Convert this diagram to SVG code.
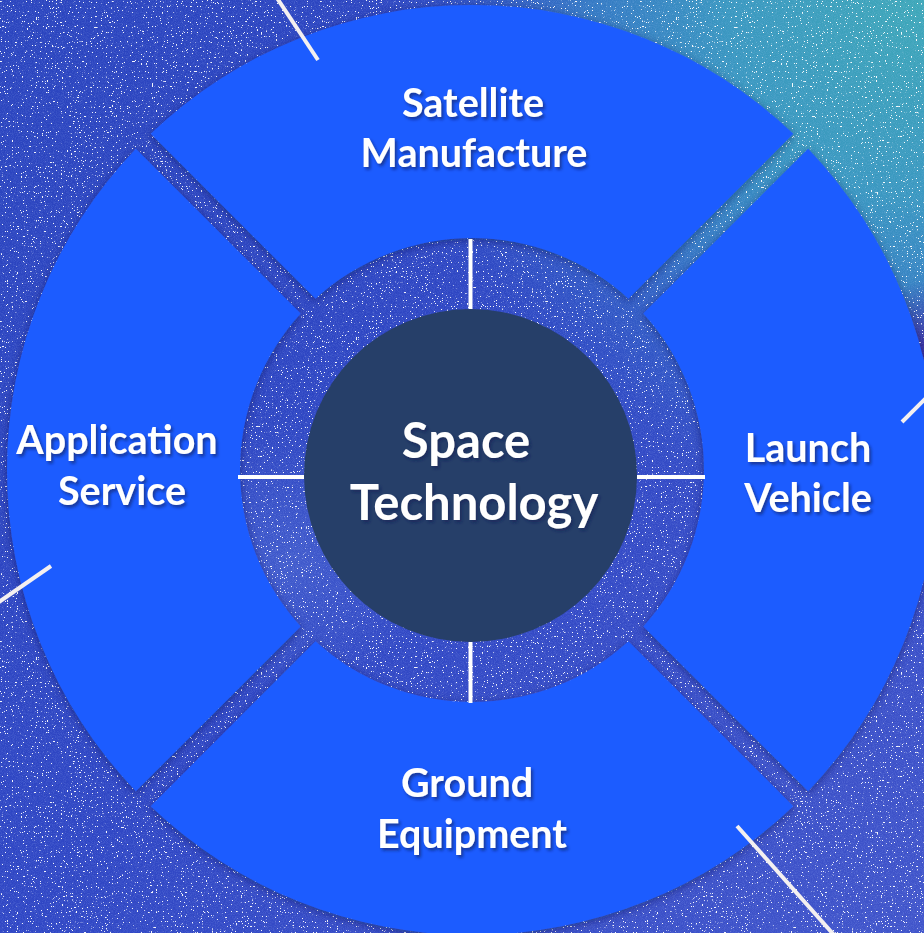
<svg xmlns="http://www.w3.org/2000/svg" width="924" height="933" viewBox="0 0 924 933">
<defs>
<style>
.seg{fill:#1F5CFF;filter:url(#segShadow)}
.lbl{font-family:Lato,"Open Sans","Liberation Sans",sans-serif;font-weight:700;fill:#FFFFFF;text-anchor:middle;filter:url(#txtShadow)}
.s40{font-size:39.5px}
.s49{font-size:49px}
.wl{stroke:#FFFFFF;stroke-width:4;fill:none}
.wo{stroke:#F4F0F0;stroke-width:4;fill:none}
</style>
<linearGradient id="bgLin" x1="0" y1="0" x2="1" y2="1">
<stop offset="0" stop-color="#2A44BE"/>
<stop offset="0.5" stop-color="#2F46C4"/>
<stop offset="1" stop-color="#4054CA"/>
</linearGradient>
<radialGradient id="teal" cx="924" cy="0" r="560" gradientUnits="userSpaceOnUse">
<stop offset="0" stop-color="#3EA8B8"/>
<stop offset="0.35" stop-color="#3A98C0"/>
<stop offset="0.6" stop-color="#3682C4" stop-opacity="0.85"/>
<stop offset="0.82" stop-color="#3262C6" stop-opacity="0.45"/>
<stop offset="1" stop-color="#3048C4" stop-opacity="0"/>
</radialGradient>
<radialGradient id="purple" cx="930" cy="350" r="70" gradientUnits="userSpaceOnUse">
<stop offset="0" stop-color="#3A2AA0"/>
<stop offset="1" stop-color="#3A2AA0" stop-opacity="0"/>
</radialGradient>
<radialGradient id="milky" cx="290" cy="560" r="140" gradientUnits="userSpaceOnUse">
<stop offset="0" stop-color="#6C8CE0" stop-opacity="0.3"/>
<stop offset="1" stop-color="#6C8CE0" stop-opacity="0"/>
</radialGradient>
<filter id="stars" x="0" y="0" width="924" height="933" filterUnits="userSpaceOnUse">
<feTurbulence type="fractalNoise" baseFrequency="0.8" numOctaves="2" seed="11"/>
<feColorMatrix type="matrix" values="0 0 0 0 1  0 0 0 0 1  0 0 0 0 1  22 0 0 0 -15.2"/>
</filter>
<filter id="grain" x="0" y="0" width="924" height="933" filterUnits="userSpaceOnUse">
<feTurbulence type="fractalNoise" baseFrequency="1.1" numOctaves="1" seed="4"/>
<feColorMatrix type="matrix" values="0 0 0 0 0.45  0 0 0 0 0.6  0 0 0 0 1  1.4 0 0 0 -0.55"/>
</filter>
<filter id="segShadow" x="-10%" y="-10%" width="120%" height="120%">
<feDropShadow dx="0" dy="2" stdDeviation="4" flood-color="#0A1240" flood-opacity="0.45"/>
</filter>
<filter id="txtShadow" x="-10%" y="-20%" width="120%" height="150%">
<feDropShadow dx="2" dy="2.5" stdDeviation="1.5" flood-color="#0B1A55" flood-opacity="0.6"/>
</filter>
</defs>

<g id="background">
<rect x="0" y="0" width="924" height="933" fill="url(#bgLin)"/>
<rect x="0" y="0" width="924" height="933" fill="url(#teal)"/>
<rect x="0" y="0" width="924" height="933" fill="url(#purple)"/>
<rect x="0" y="0" width="924" height="933" fill="url(#milky)"/>
<rect x="0" y="0" width="924" height="933" filter="url(#grain)" opacity="0.3"/>
<rect x="0" y="0" width="924" height="933" filter="url(#stars)" opacity="0.95"/>
</g>

<g id="seg-satellite">
<path class="seg" d="M150.70,133.85 A465,465 0 0 1 793.30,133.85 L628.46,298.69 A232,232 0 0 0 315.54,298.69 Z"/>
<text class="lbl s40" x="473" y="117">Satellite</text>
<text class="lbl s40" x="474" y="167">Manufacture</text>
</g>

<g id="seg-launch">
<path class="seg" d="M808.15,148.70 A465,465 0 0 1 808.15,791.30 L643.31,626.46 A232,232 0 0 0 643.31,313.54 Z"/>
<text class="lbl s40" x="808" y="462">Launch</text>
<text class="lbl s40" x="808" y="512">Vehicle</text>
</g>

<g id="seg-ground">
<path class="seg" d="M793.30,806.15 A465,465 0 0 1 150.70,806.15 L315.54,641.31 A232,232 0 0 0 628.46,641.31 Z"/>
<text class="lbl s40" x="467" y="797">Ground</text>
<text class="lbl s40" x="472" y="848">Equipment</text>
</g>

<g id="seg-application">
<path class="seg" d="M135.85,791.30 A465,465 0 0 1 135.85,148.70 L300.69,313.54 A232,232 0 0 0 300.69,626.46 Z"/>
<text class="lbl s40" x="117" y="454">Application</text>
<text class="lbl s40" x="122" y="505">Service</text>
</g>

<g id="center">
<circle cx="470.5" cy="475.5" r="166.5" fill="#263F69"/>
<text class="lbl s49" x="466" y="458">Space</text>
<text class="lbl s49" x="474" y="520">Technology</text>
</g>

<g id="connectors">
<line class="wl" x1="470.5" y1="239" x2="470.5" y2="309"/>
<line class="wl" x1="470.5" y1="642" x2="470.5" y2="703"/>
<line class="wl" x1="238" y1="477" x2="304" y2="477"/>
<line class="wl" x1="637" y1="477" x2="705" y2="477"/>
<line class="wo" x1="277" y1="-2" x2="318" y2="60"/>
<line class="wo" x1="902" y1="422" x2="928" y2="396"/>
<line class="wo" x1="51" y1="566" x2="-4" y2="604"/>
<line class="wo" x1="737" y1="826" x2="834" y2="935"/>
</g>
</svg>
